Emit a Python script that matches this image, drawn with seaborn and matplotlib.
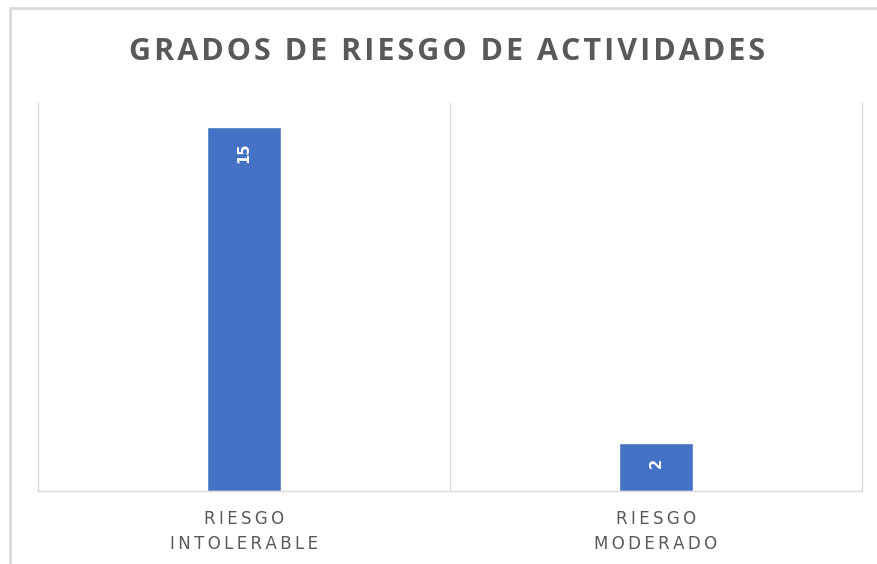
import matplotlib
matplotlib.use("Agg")
import matplotlib.pyplot as plt
import seaborn as sns
import pandas as pd

# data
categorias = ["RIESGO\nINTOLERABLE", "RIESGO\nMODERADO"]
valores = [15, 2]
titulo = "GRADOS DE RIESGO DE ACTIVIDADES"

df = pd.DataFrame({"categoria": categorias, "valor": valores})

sns.set_style("white")
plt.rcParams["font.family"] = ["DejaVu Sans"]


def espaciar(texto, sep="\u2009"):
    # fake letter spacing like the original chart
    return "\n".join(sep.join(linea) for linea in texto.split("\n"))


fig = plt.figure(figsize=(8.77, 5.64), dpi=100)
ax = fig.add_axes([38 / 877, (564 - 491) / 564, (862 - 38) / 877, (491 - 103) / 564])

sns.barplot(data=df, x="categoria", y="valor", color="#4472C4", width=0.18,
            saturation=1, ax=ax)

ax.set_xlim(-0.5, 1.5)
ax.set_ylim(0, 16)
ax.set_yticks([])
ax.set_xlabel("")
ax.set_ylabel("")
ax.set_xticks(range(len(categorias)))
ax.set_xticklabels([espaciar(c) for c in categorias], fontsize=12,
                   color="#595959", linespacing=1.5)
ax.tick_params(axis="x", length=0, pad=14)

grid = "#D9D9D9"
for s in ["left", "right", "bottom"]:
    ax.spines[s].set_color(grid)
    ax.spines[s].set_linewidth(1)
ax.spines["top"].set_visible(False)
ax.axvline(0.5, color=grid, lw=1)

for i, v in enumerate(valores):
    ax.annotate(str(v), xy=(i, v), xytext=(0, -11), textcoords="offset points",
                rotation=90, ha="center", va="top", color="white",
                fontsize=10.5, fontweight="bold")

fig.text(447 / 877, 1 - 52 / 564, espaciar(titulo, "\u200a"), ha="center",
         va="center", fontsize=22, fontweight="bold", color="#595959",
         family=["Open Sans", "DejaVu Sans"])

# outer chart frame (left and top edges visible)
fig.add_artist(plt.Line2D([10 / 877, 10 / 877], [0, 1 - 8 / 564],
                          color="#D9D9D9", lw=2, transform=fig.transFigure))
fig.add_artist(plt.Line2D([10 / 877, 1], [1 - 8 / 564, 1 - 8 / 564],
                          color="#D9D9D9", lw=2, transform=fig.transFigure))

fig.savefig("out.png", dpi=100)
